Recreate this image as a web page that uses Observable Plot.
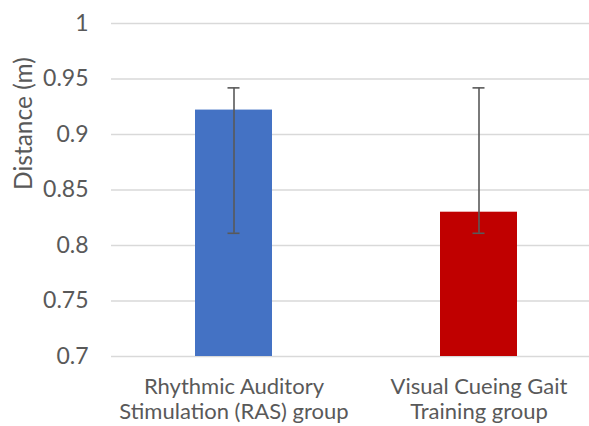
<!DOCTYPE html>
<html>
<head>
<meta charset="utf-8">
<script src="https://cdn.jsdelivr.net/npm/d3@7"></script>
<script src="https://cdn.jsdelivr.net/npm/@observablehq/plot@0.6"></script>
<style>
  html, body { margin: 0; padding: 0; background: #fff; overflow: hidden; }
  #chart { width: 589px; height: 426px; overflow: hidden; }
  #chart svg { max-width: none !important; }
</style>
</head>
<body>
<div id="chart"></div>
<script>
const categories = ["Rhythmic Auditory\nStimulation (RAS) group", "Visual Cueing Gait\nTraining group"];
const means = [0.922, 0.830];
const errLow = [0.811, 0.811];
const errHigh = [0.942, 0.942];
const barColors = ["#4472C4", "#C00000"];
const yTicks = [0.7, 0.75, 0.8, 0.85, 0.9, 0.95, 1];
const yTitle = "Distance (m)";

const data = categories.map((c, i) => ({cat: c, mean: means[i], lo: errLow[i], hi: errHigh[i], color: barColors[i]}));

const chart = Plot.plot({
  width: 601,
  height: 426,
  marginLeft: 111,
  marginRight: 0,
  marginTop: 23,
  marginBottom: 70,
  style: {fontFamily: "Lato, 'Open Sans', sans-serif", fontSize: "22px", color: "#595959", background: "#fff", maxWidth: "none"},
  x: {domain: categories, paddingInner: 0.686, paddingOuter: 0.343, label: null},
  y: {domain: [0.7, 1], label: null},
  marks: [
    Plot.gridY(yTicks, {stroke: "#d9d9d9", strokeOpacity: 1, strokeWidth: 1.3}),
    Plot.barY(data, {x: "cat", y1: 0.7, y2: "mean", fill: "color"}),
    Plot.ruleX(data, {x: "cat", y1: "lo", y2: "hi", stroke: "#595959", strokeWidth: 1.6}),
    Plot.tickY(data, {x: "cat", y: "lo", stroke: "#595959", strokeWidth: 1.6, insetLeft: 32.5, insetRight: 32.5}),
    Plot.tickY(data, {x: "cat", y: "hi", stroke: "#595959", strokeWidth: 1.6, insetLeft: 32.5, insetRight: 32.5}),
    Plot.axisY(yTicks, {tickSize: 0, tickPadding: 23, tickFormat: d => String(+d.toFixed(2)), label: null, fontSize: 23, fill: "#595959"}),
    Plot.axisX({tickSize: 0, tickPadding: 20, label: null, fontSize: 22, fill: "#595959", lineHeight: 1.12}),
    Plot.text([yTitle], {frameAnchor: "left", rotate: -90, dx: -87, fontSize: 24.5, fill: "#595959"})
  ]
});
document.getElementById("chart").append(chart);
</script>
</body>
</html>
